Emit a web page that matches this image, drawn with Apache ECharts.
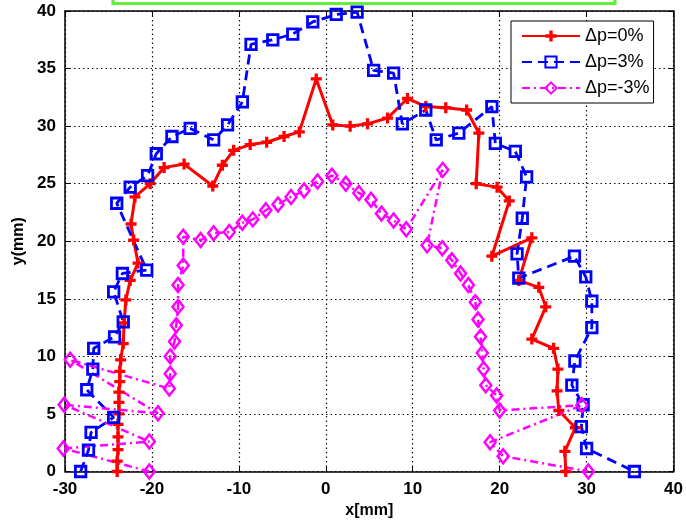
<!DOCTYPE html>
<html>
<head>
<meta charset="utf-8">
<script src="https://cdn.jsdelivr.net/npm/echarts@6/dist/echarts.min.js"></script>
<style>
  html, body { margin: 0; padding: 0; background: #fff; }
  #chart { width: 686px; height: 524px; }
</style>
</head>
<body>
<div id="chart"></div>
<script>
// Profile contours for three pressure offsets, coordinates in mm
const seriesNames = ['Δp=0%', 'Δp=3%', 'Δp=-3%'];

const p0X = [-24.0, -24.0, -23.9, -23.9, -23.9, -23.8, -23.8, -23.8, -23.7, -23.7, -23.6,
  -23.3, -23.2, -23.0, -22.5, -21.6, -22.1, -22.4, -21.95, -20.2, -18.6, -16.3, -13.0,
  -11.9, -10.6, -8.7, -6.8, -4.8, -3.05, -1.1, 0.8, 2.8, 4.8, 7.1, 9.4, 11.5, 13.8, 16.2,
  17.6, 17.3, 19.7, 21.1, 19.1, 23.7, 22.2, 24.5, 25.3, 23.7, 26.2, 26.7, 26.6, 26.8,
  28.7, 27.5, 27.6];
const p0Y = [0.0, 0.9, 1.9, 3.0, 4.1, 5.0, 6.0, 6.9, 7.8, 8.7, 9.7,
  11.1, 12.9, 14.9, 16.6, 18.1, 20.1, 21.5, 23.85, 25.0, 26.4, 26.7, 24.8,
  26.6, 27.9, 28.4, 28.6, 29.1, 29.5, 34.1, 30.1, 30.0, 30.2, 30.7, 32.4, 31.7, 31.6, 31.4,
  29.4, 25.0, 24.7, 23.5, 18.7, 20.3, 16.6, 16.0, 14.3, 11.5, 10.7, 8.9, 7.0, 5.3,
  3.8, 1.75, 0.0];

const p3X = [-28.2, -27.3, -27.0, -24.4, -27.5, -26.8, -26.7, -24.3, -23.3, -24.4, -23.4,
  -20.6, -24.05, -22.5, -20.5, -19.5, -17.7, -15.6, -12.9, -11.3, -9.6, -8.6, -6.1, -3.8,
  -1.5, 1.2, 3.6, 5.5, 7.8, 8.8, 11.5, 12.7, 15.3, 19.1, 19.5, 21.8, 23.1, 22.6, 22.0,
  22.2, 28.6, 29.9, 30.6, 30.6, 28.65, 28.3, 29.6, 29.4, 30.0, 35.5];
const p3Y = [0.0, 1.85, 3.4, 4.7, 7.1, 8.9, 10.7, 11.7, 13.0, 15.6, 17.2,
  17.5, 23.3, 24.7, 25.7, 27.6, 29.1, 29.8, 28.8, 30.1, 32.1, 37.1, 37.5, 38.0,
  39.05, 39.7, 39.9, 34.85, 34.6, 30.2, 31.4, 28.8, 29.4, 31.7, 28.5, 27.8, 25.6, 22.0, 18.9,
  16.8, 18.7, 16.9, 14.8, 12.5, 9.6, 7.5, 5.8, 3.9, 2.0, 0.0];

const m3X = [-20.3, -30.2, -20.3, -30.1, -19.3, -29.4, -18.0, -17.9, -17.9, -17.4, -17.2,
  -17.0, -17.0, -16.4, -16.4, -14.4, -12.9, -11.1, -9.6, -8.4, -6.9, -5.5, -4.0, -2.5,
  -0.95, 0.7, 2.3, 3.8, 5.2, 6.4, 7.8, 9.25, 13.45, 11.65, 13.4, 14.5, 15.5, 16.4, 17.2,
  17.5, 17.8, 18.0, 18.15, 18.4, 19.65, 20.0, 29.45, 18.9, 20.4, 30.2];
const m3Y = [0.0, 2.0, 2.6, 5.8, 5.05, 9.7, 7.2, 8.5, 10.0, 11.3, 12.7,
  14.3, 16.2, 17.9, 20.4, 20.1, 20.7, 20.8, 21.6, 21.9, 22.7, 23.2, 23.85, 24.4,
  25.2, 25.7, 25.0, 24.2, 23.6, 22.4, 21.8, 21.05, 26.2, 19.66, 19.4, 18.35, 17.2, 16.2, 14.7,
  13.2, 11.7, 10.3, 8.9, 7.5, 6.6, 5.3, 5.75, 2.55, 1.33, 0.0];

const xRange = { min: -30, max: 40, step: 10 };
const yRange = { min: 0, max: 40, step: 5 };

const pairs = (xs, ys) => xs.map((x, i) => [x, ys[i]]);

const FONT = "'Liberation Sans', Arial, sans-serif";
const plusSymbol = 'path://M3.5,0H6.5V3.5H10V6.5H6.5V10H3.5V6.5H0V3.5H3.5Z';

const chart = echarts.init(document.getElementById('chart'), null, { renderer: 'canvas' });

const tickStyle = { inside: true, length: 5, lineStyle: { color: '#000', width: 1 } };
const axisLineStyle = { show: true, onZero: false, lineStyle: { color: '#000', width: 1.5 } };
const gridLine = { show: true, lineStyle: { color: '#111', width: 1.2, type: [1.5, 3] } };
const labelStyle = { color: '#000', fontSize: 17, fontWeight: 'bold', fontFamily: FONT };

chart.setOption({
  animation: false,
  backgroundColor: '#fff',
  grid: { left: 65, right: 11, top: 11, bottom: 52.5 },
  graphic: [{
    type: 'rect',
    shape: { x: 113, y: -10, width: 502, height: 13.5 },
    style: { fill: 'none', stroke: '#62ee3a', lineWidth: 3.2 }
  }],
  legend: {
    data: seriesNames,
    left: 511, top: 21,
    orient: 'vertical',
    padding: [6, 4, 6, 10],
    itemWidth: 58, itemHeight: 14, itemGap: 8,
    borderColor: '#000', borderWidth: 1,
    backgroundColor: '#fff',
    textStyle: { color: '#000', fontSize: 18, fontFamily: FONT }
  },
  xAxis: [{
    type: 'value', min: xRange.min, max: xRange.max, interval: xRange.step,
    name: 'x[mm]', nameLocation: 'middle', nameGap: 30,
    nameTextStyle: { color: '#000', fontSize: 16, fontWeight: 'bold', fontFamily: FONT },
    axisLine: axisLineStyle, axisTick: tickStyle,
    axisLabel: Object.assign({ margin: 9 }, labelStyle),
    splitLine: gridLine
  }, {
    type: 'value', position: 'top', min: xRange.min, max: xRange.max, interval: xRange.step,
    axisLine: axisLineStyle, axisTick: tickStyle,
    axisLabel: { show: false }, splitLine: { show: false }
  }],
  yAxis: [{
    type: 'value', min: yRange.min, max: yRange.max, interval: yRange.step,
    name: 'y(mm)', nameLocation: 'middle', nameGap: 38,
    nameTextStyle: { color: '#000', fontSize: 16, fontWeight: 'bold', fontFamily: FONT },
    axisLine: axisLineStyle, axisTick: tickStyle,
    axisLabel: Object.assign({ margin: 9 }, labelStyle),
    splitLine: gridLine
  }, {
    type: 'value', position: 'right', min: yRange.min, max: yRange.max, interval: yRange.step,
    axisLine: axisLineStyle, axisTick: tickStyle,
    axisLabel: { show: false }, splitLine: { show: false }
  }],
  series: [{
    name: seriesNames[0], type: 'line', clip: false,
    data: pairs(p0X, p0Y),
    symbol: plusSymbol, symbolSize: 11,
    itemStyle: { color: '#ff0000' },
    lineStyle: { color: '#ff0000', width: 3 }
  }, {
    name: seriesNames[1], type: 'line', clip: false,
    data: pairs(p3X, p3Y),
    symbol: 'rect', symbolSize: 10.5,
    itemStyle: { color: 'rgba(255,255,255,0)', borderColor: '#0000ff', borderWidth: 2.8 },
    lineStyle: { color: '#0000ff', width: 2.8, type: [10, 6] }
  }, {
    name: seriesNames[2], type: 'line', clip: false,
    data: pairs(m3X, m3Y),
    symbol: 'diamond', symbolSize: [11, 14],
    itemStyle: { color: 'rgba(255,255,255,0)', borderColor: '#ff00ff', borderWidth: 2.5 },
    lineStyle: { color: '#ff00ff', width: 2.5, type: [8, 4, 2, 4] }
  }]
});
</script>
</body>
</html>
